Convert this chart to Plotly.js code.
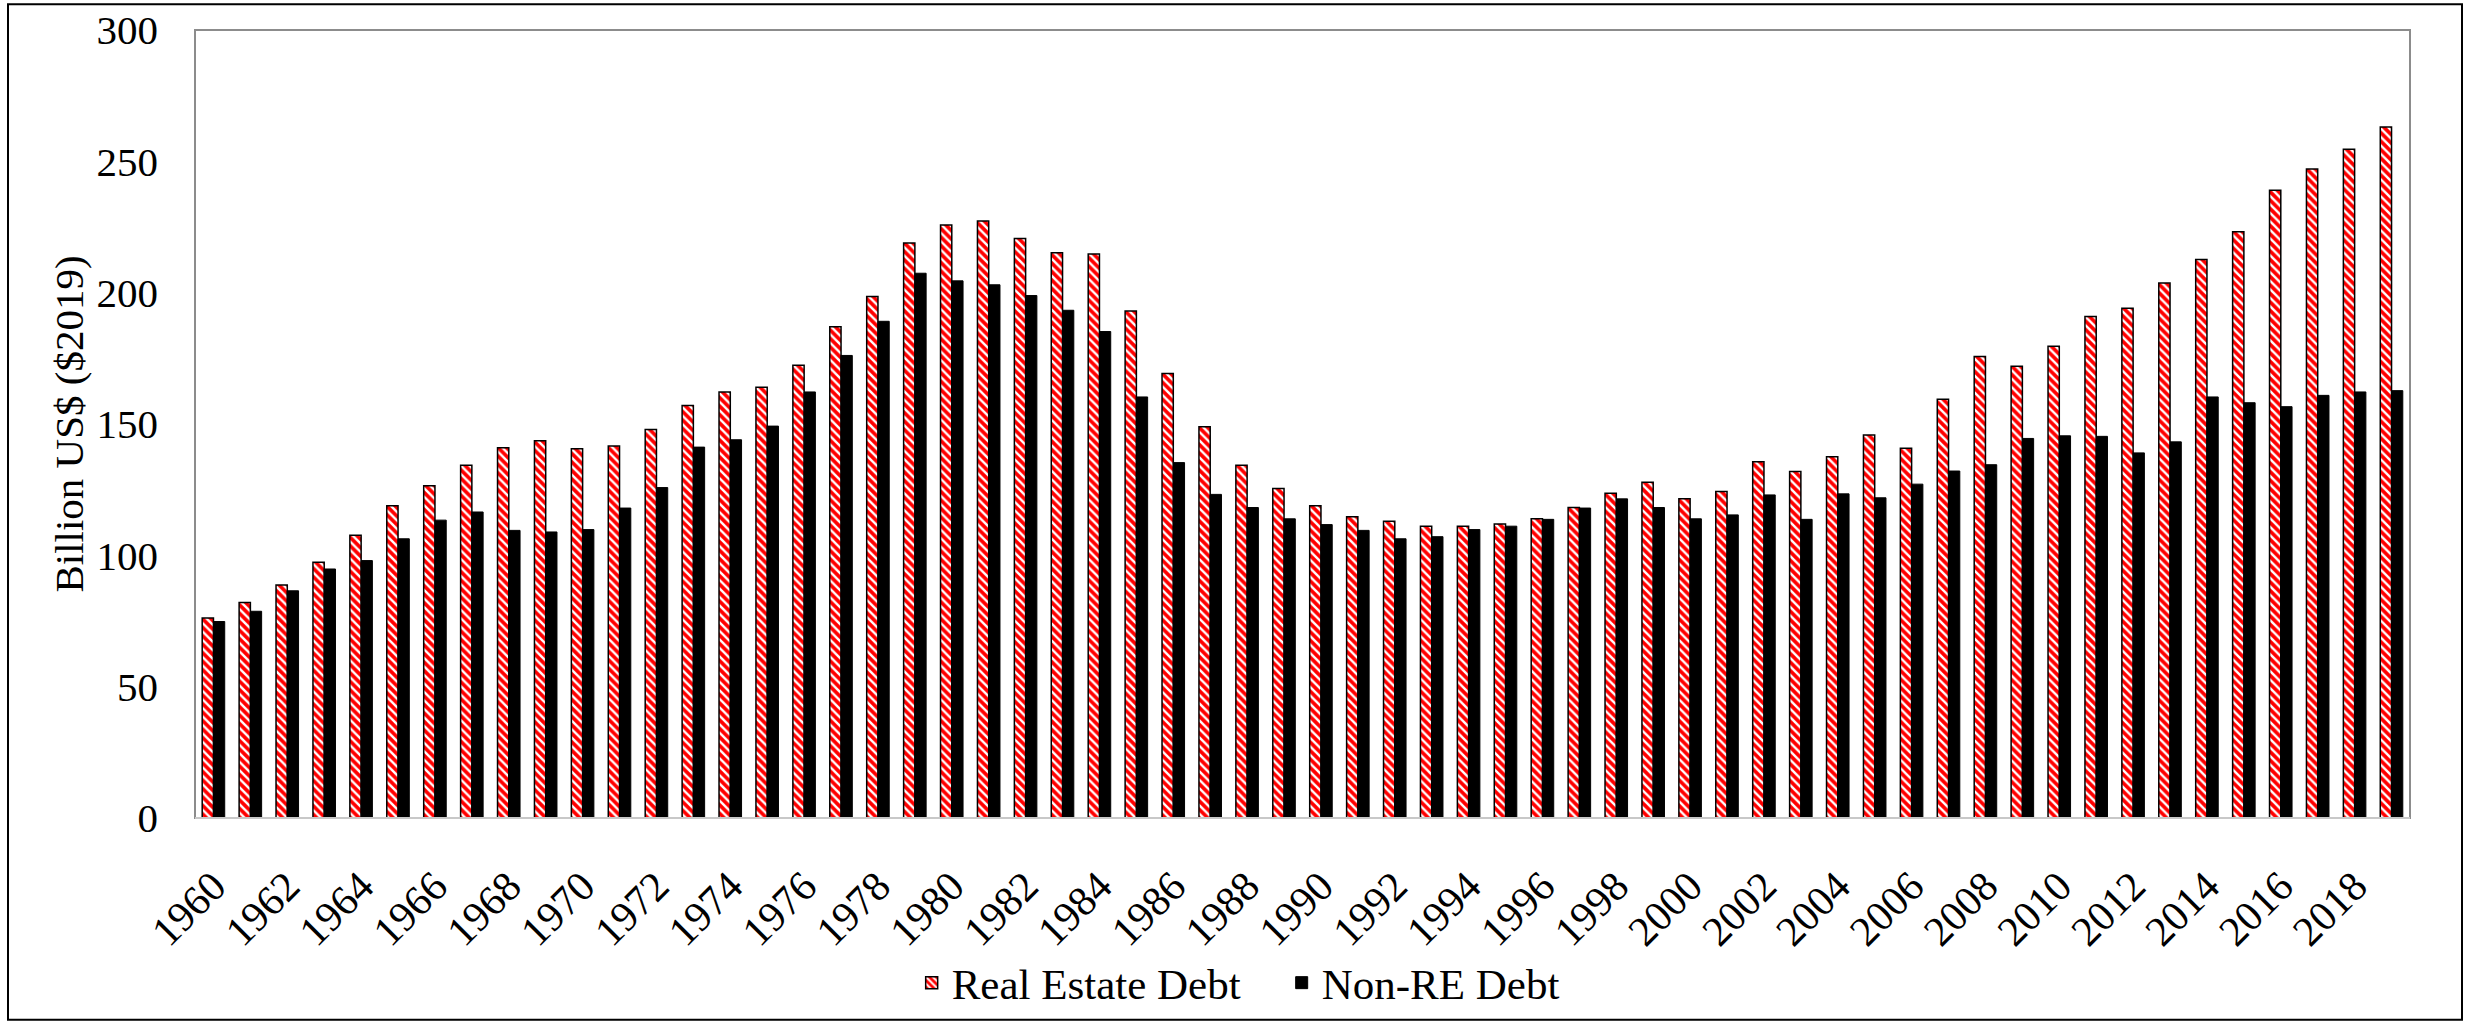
<!DOCTYPE html>
<html>
<head>
<meta charset="utf-8">
<script src="https://cdn.plot.ly/plotly-3.0.1.min.js"></script>
<style>
  html, body { margin: 0; padding: 0; background: #ffffff; }
  #chart { width: 2466px; height: 1029px; }
</style>
</head>
<body>
<div id="chart"></div>
<script>
// ---- Data ----
const years = [
  1960,1961,1962,1963,1964,1965,1966,1967,1968,1969,
  1970,1971,1972,1973,1974,1975,1976,1977,1978,1979,
  1980,1981,1982,1983,1984,1985,1986,1987,1988,1989,
  1990,1991,1992,1993,1994,1995,1996,1997,1998,1999,
  2000,2001,2002,2003,2004,2005,2006,2007,2008,2009,
  2010,2011,2012,2013,2014,2015,2016,2017,2018,2019
];

const realEstateDebt = [
  76.1, 82.0, 88.7, 97.4, 107.6, 118.9, 126.5, 134.3, 141.0, 143.6,
  140.6, 141.6, 147.9, 157.0, 162.2, 164.0, 172.4, 187.0, 198.5, 218.9,
  225.8, 227.3, 220.6, 215.2, 214.7, 193.0, 169.2, 149.0, 134.3, 125.4,
  118.9, 114.7, 113.0, 111.1, 111.1, 111.9, 113.9, 118.2, 123.6, 127.8,
  121.5, 124.3, 135.6, 131.9, 137.5, 145.8, 140.8, 159.4, 175.7, 172.0,
  179.6, 190.9, 194.1, 203.7, 212.6, 223.2, 239.0, 247.1, 254.6, 263.1
];

const nonREDebt = [
  74.8, 78.7, 86.5, 94.8, 98.0, 106.3, 113.4, 116.5, 109.5, 108.9,
  109.8, 118.0, 125.8, 141.2, 144.0, 149.2, 162.2, 176.1, 189.1, 207.4,
  204.5, 203.0, 198.9, 193.3, 185.2, 160.3, 135.3, 123.2, 118.2, 113.9,
  111.7, 109.5, 106.3, 107.1, 109.8, 111.1, 113.7, 118.0, 121.5, 118.2,
  113.9, 115.4, 123.0, 113.7, 123.4, 121.9, 127.1, 132.1, 134.5, 144.5,
  145.5, 145.3, 139.0, 143.2, 160.3, 158.1, 156.6, 160.9, 162.2, 162.7
];

const xTickLabels = [
  '1960','1962','1964','1966','1968','1970','1972','1974','1976','1978',
  '1980','1982','1984','1986','1988','1990','1992','1994','1996','1998',
  '2000','2002','2004','2006','2008','2010','2012','2014','2016','2018'
];

const yTickValues = [0, 50, 100, 150, 200, 250, 300];

const seriesNames = ['Real Estate Debt', 'Non-RE Debt'];
const yAxisTitle = 'Billion US$ ($2019)';

// ---- Chart ----
const cats = years.map(String);
const FONT = '"Liberation Serif", "Times New Roman", Times, serif';

const traces = [
  {
    type: 'bar',
    name: seriesNames[0],
    x: cats,
    y: realEstateDebt,
    marker: {
      color: '#ff0000',
      line: { color: '#000000', width: 1.5 },
      pattern: { shape: '\\', fgcolor: '#ffffff', bgcolor: '#ff0000', size: 6, solidity: 0.4, fillmode: 'replace' }
    },
    hoverinfo: 'x+y'
  },
  {
    type: 'bar',
    name: seriesNames[1],
    x: cats,
    y: nonREDebt,
    marker: { color: '#000000', line: { color: '#000000', width: 1 } },
    hoverinfo: 'x+y'
  }
];

const layout = {
  width: 2466,
  height: 1029,
  margin: { l: 195, r: 56, t: 30, b: 206, pad: 0 },
  paper_bgcolor: '#ffffff',
  plot_bgcolor: '#ffffff',
  font: { family: FONT, size: 41, color: '#000000' },
  barmode: 'group',
  bargap: 0.39,
  bargroupgap: 0,
  showlegend: true,
  legend: {
    orientation: 'h',
    x: 0.4906, xanchor: 'center',
    y: -0.209, yanchor: 'middle',
    font: { family: FONT, size: 43, color: '#000000' },
    itemwidth: 30,
    entrywidth: 325,
    bgcolor: 'rgba(0,0,0,0)'
  },
  xaxis: {
    type: 'category',
    tickmode: 'array',
    tickvals: xTickLabels,
    ticktext: xTickLabels,
    tickangle: -45,
    tickfont: { family: FONT, size: 42, color: '#000000' },
    ticks: '',
    ticklabelstandoff: 34,
    showgrid: false,
    zeroline: false,
    showline: false,
    automargin: false
  },
  yaxis: {
    range: [0, 300],
    tickmode: 'array',
    tickvals: yTickValues,
    tickfont: { family: FONT, size: 41, color: '#000000' },
    ticks: '',
    ticklabelstandoff: 36,
    showgrid: false,
    zeroline: false,
    showline: false,
    automargin: false,
    title: { text: yAxisTitle, font: { family: FONT, size: 41, color: '#000000' }, standoff: 0 }
  },
  shapes: [
    { type: 'rect', xref: 'paper', yref: 'paper', x0: 0, x1: 1, y0: 0, y1: 1,
      line: { color: '#8c8c8c', width: 2 }, fillcolor: 'rgba(0,0,0,0)', layer: 'above' },
    { type: 'line', xref: 'paper', yref: 'paper', x0: 0, x1: 1, y0: 0, y1: 0,
      line: { color: '#c8c8c8', width: 2 }, layer: 'above' },
    { type: 'rect', xref: 'paper', yref: 'paper',
      x0: (8 - 195) / 2215, x1: (2462 - 195) / 2215,
      y0: (823 - 1026) / 793, y1: 1 + (30 - 4) / 793,
      line: { color: '#000000', width: 2 }, fillcolor: 'rgba(0,0,0,0)', layer: 'below' }
  ]
};

Plotly.newPlot('chart', traces, layout, { displayModeBar: false, staticPlot: true });
</script>
</body>
</html>
